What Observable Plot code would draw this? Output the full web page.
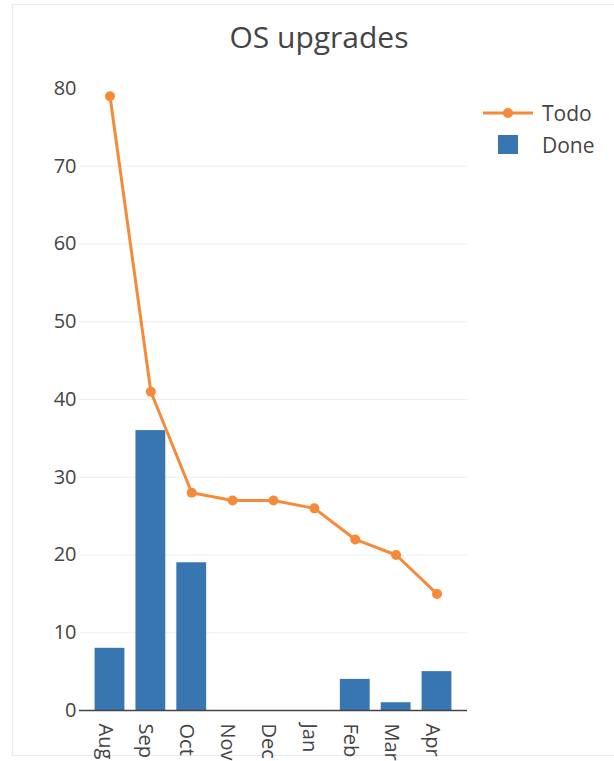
<!DOCTYPE html>
<html>
<head>
<meta charset="utf-8">
<script src="https://cdn.jsdelivr.net/npm/d3@7"></script>
<script src="https://cdn.jsdelivr.net/npm/@observablehq/plot@0.6"></script>
<style>
  html, body { margin: 0; padding: 0; background: #fff; }
  #wrap { position: relative; width: 614px; height: 761px; overflow: hidden; font-family: "Open Sans", sans-serif; color: #444; }
  #card { position: absolute; left: 12px; top: 4px; width: 700px; height: 752px; border: 1px solid #ececec; box-sizing: border-box; }
  #title { position: absolute; left: 0; width: 638px; top: 17px; text-align: center; font-size: 30px; line-height: 40px; color: #444; }
  #chart { position: absolute; left: 0; top: 0; }
  #legend { position: absolute; left: 480px; top: 99px; font-size: 21px; color: #444; }
  .li { position: relative; height: 32px; }
  .li span { position: absolute; left: 62px; top: 0; line-height: 28px; }
</style>
</head>
<body>
<div id="wrap">
  <div id="card"></div>
  <div id="chart"></div>
  <div id="title">OS upgrades</div>
  <div id="legend"></div>
</div>
<script>
const months = ["Aug", "Sep", "Oct", "Nov", "Dec", "Jan", "Feb", "Mar", "Apr"];
const todo = [79, 41, 28, 27, 27, 26, 22, 20, 15];
const done = [8, 36, 19, 0, 0, 0, 4, 1, 5];
const yTicks = [0, 10, 20, 30, 40, 50, 60, 70, 80];
const seriesNames = ["Todo", "Done"];
const todoColor = "#f58b3a";
const doneColor = "#3876b1";

const data = months.map((m, i) => ({month: m, todo: todo[i], done: done[i]}));

const chart = Plot.plot({
  width: 614,
  height: 761,
  marginLeft: 79,
  marginRight: 147,
  marginTop: 88,
  marginBottom: 51,
  style: {fontFamily: "Open Sans, sans-serif", color: "#444", background: "transparent", overflow: "visible"},
  x: {domain: months, paddingInner: 0.27, paddingOuter: 0.381, round: false},
  y: {domain: [0, 80]},
  marks: [
    Plot.ruleY(yTicks.filter(t => t > 0 && t < 80), {stroke: "#eeeeee", strokeWidth: 1}),
    Plot.axisY(yTicks, {tickSize: 0, tickPadding: 3, fontSize: 20, label: null, fill: "#444"}),
    Plot.axisX({tickSize: 0, tickPadding: 13, tickRotate: 90, fontSize: 20, dx: -5, label: null, fill: "#444"}),
    Plot.barY(data, {x: "month", y: "done", fill: doneColor}),
    Plot.ruleY([0], {stroke: "#444", strokeWidth: 1.5}),
    Plot.line(data, {x: "month", y: "todo", stroke: todoColor, strokeWidth: 3}),
    Plot.dot(data, {x: "month", y: "todo", fill: todoColor, r: 5})
  ]
});
document.getElementById("chart").appendChild(chart);

// legend
const legend = document.getElementById("legend");
legend.innerHTML = `
  <div class="li"><svg width="60" height="28" style="position:absolute;left:0;top:0">
    <line x1="3" y1="14" x2="53" y2="14" stroke="${todoColor}" stroke-width="3"/>
    <circle cx="28" cy="14" r="5" fill="${todoColor}"/></svg><span>${seriesNames[0]}</span></div>
  <div class="li"><svg width="60" height="28" style="position:absolute;left:0;top:0">
    <rect x="18" y="4" width="20" height="19" fill="${doneColor}"/></svg><span>${seriesNames[1]}</span></div>
`;
</script>
</body>
</html>
